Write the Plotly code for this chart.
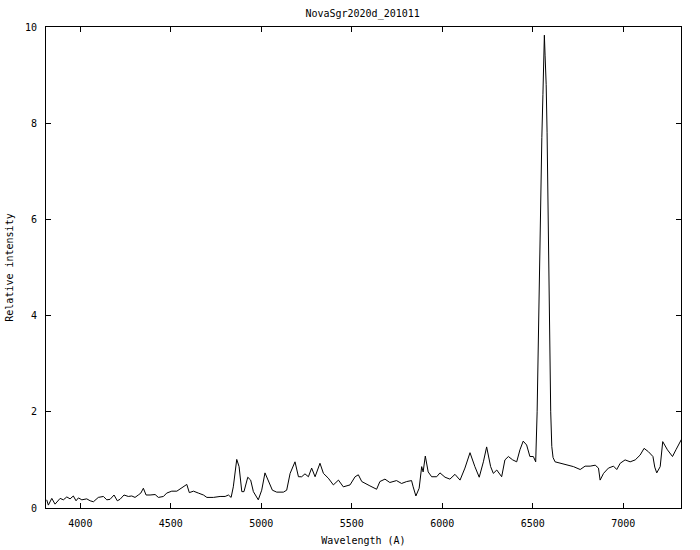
import plotly.graph_objects as go

wavelength = [3814, 3823, 3842, 3860, 3888, 3906, 3925, 3943, 3961, 3976, 3989, 4008, 4035, 4054,
              4072, 4099, 4127, 4146, 4164, 4186, 4204, 4219, 4241, 4265, 4284, 4302, 4320, 4334,
              4348, 4363, 4385, 4413, 4431, 4459, 4477, 4505, 4533, 4560, 4588, 4602, 4625, 4652,
              4680, 4699, 4735, 4772, 4800, 4818, 4833, 4845, 4864, 4877, 4892, 4904, 4925, 4941,
              4956, 4983, 5002, 5020, 5039, 5061, 5085, 5122, 5140, 5159, 5186, 5205, 5223, 5241,
              5260, 5278, 5297, 5324, 5343, 5370, 5398, 5426, 5453, 5490, 5518, 5536, 5555, 5573,
              5600, 5637, 5655, 5683, 5710, 5747, 5775, 5803, 5830, 5839, 5854, 5872, 5886, 5894,
              5906, 5922, 5941, 5969, 5987, 6015, 6042, 6070, 6098, 6125, 6153, 6180, 6204, 6227,
              6245, 6267, 6282, 6301, 6315, 6328, 6346, 6365, 6389, 6411, 6429, 6447, 6466, 6484,
              6503, 6516, 6524, 6532, 6541, 6550, 6556, 6561, 6564, 6568, 6574, 6579, 6583, 6588,
              6593, 6599, 6605, 6612, 6623, 6651, 6688, 6725, 6762, 6789, 6817, 6845, 6863, 6872,
              6891, 6918, 6946, 6964, 6983, 7010, 7038, 7066, 7093, 7115, 7139, 7164, 7174, 7185,
              7204, 7218, 7244, 7272, 7291, 7309, 7322]

intensity = [0.17, 0.06, 0.20, 0.08, 0.20, 0.17, 0.23, 0.19, 0.25, 0.15, 0.21, 0.17, 0.19, 0.15,
             0.13, 0.22, 0.24, 0.17, 0.18, 0.27, 0.15, 0.18, 0.27, 0.24, 0.25, 0.22, 0.27, 0.31,
             0.41, 0.27, 0.27, 0.28, 0.22, 0.24, 0.31, 0.35, 0.35, 0.41, 0.49, 0.32, 0.35, 0.31,
             0.27, 0.22, 0.22, 0.24, 0.24, 0.27, 0.22, 0.44, 1.01, 0.86, 0.34, 0.34, 0.64, 0.58,
             0.34, 0.17, 0.37, 0.73, 0.58, 0.37, 0.33, 0.33, 0.37, 0.72, 0.96, 0.65, 0.65, 0.71,
             0.65, 0.83, 0.65, 0.93, 0.72, 0.62, 0.48, 0.58, 0.44, 0.48, 0.65, 0.69, 0.55, 0.52,
             0.46, 0.39, 0.55, 0.60, 0.53, 0.57, 0.51, 0.55, 0.57, 0.44, 0.25, 0.41, 0.86, 0.75,
             1.08, 0.75, 0.65, 0.65, 0.73, 0.64, 0.60, 0.70, 0.58, 0.83, 1.15, 0.86, 0.64, 0.96,
             1.27, 0.86, 0.72, 0.79, 0.72, 0.65, 1.00, 1.07, 1.00, 0.96, 1.21, 1.39, 1.31, 1.07,
             1.07, 0.96, 2.0, 4.0, 6.0, 7.7, 8.6, 9.3, 9.83, 9.4, 8.8, 7.8, 6.5, 4.5,
             3.0, 2.0, 1.28, 1.05, 0.96, 0.93, 0.89, 0.86, 0.80, 0.87, 0.87, 0.89, 0.83, 0.58,
             0.72, 0.83, 0.87, 0.80, 0.93, 1.00, 0.96, 1.00, 1.10, 1.24, 1.17, 1.07, 0.85, 0.73,
             0.86, 1.38, 1.21, 1.07, 1.21, 1.34, 1.43]

x_ticks = [4000, 4500, 5000, 5500, 6000, 6500, 7000]
y_ticks = [0, 2, 4, 6, 8, 10]

font = dict(family="DejaVu Sans Mono", size=10, color="black")

fig = go.Figure()
fig.add_trace(go.Scatter(x=wavelength, y=intensity, mode="lines",
                         line=dict(color="black", width=1), showlegend=False))

fig.update_layout(
    width=700, height=550,
    margin=dict(l=46, r=19, t=27, b=42),
    paper_bgcolor="white", plot_bgcolor="white",
    font=font,
    title=dict(text="NovaSgr2020d_201011", x=0.518, xanchor="center", y=0.975, yanchor="middle",
               font=font),
    xaxis=dict(range=[3810, 7319], tickvals=x_ticks, ticks="inside", ticklen=5, tickcolor="black",
               showline=True, linecolor="black", linewidth=1, mirror="ticks", showgrid=False,
               zeroline=False, tickfont=font, ticklabelstandoff=6, automargin=False,
               title=dict(text="Wavelength (A)", font=font, standoff=8)),
    yaxis=dict(range=[0, 10], tickvals=y_ticks, ticks="inside", ticklen=5, tickcolor="black",
               showline=True, linecolor="black", linewidth=1, mirror="ticks", showgrid=False,
               zeroline=False, tickfont=font, ticklabelstandoff=6, automargin=False,
               title=dict(text="Relative intensity", font=font, standoff=9)),
)

fig.write_html("out.html", config={"displayModeBar": False},
               post_script="document.body.style.margin='0';")
